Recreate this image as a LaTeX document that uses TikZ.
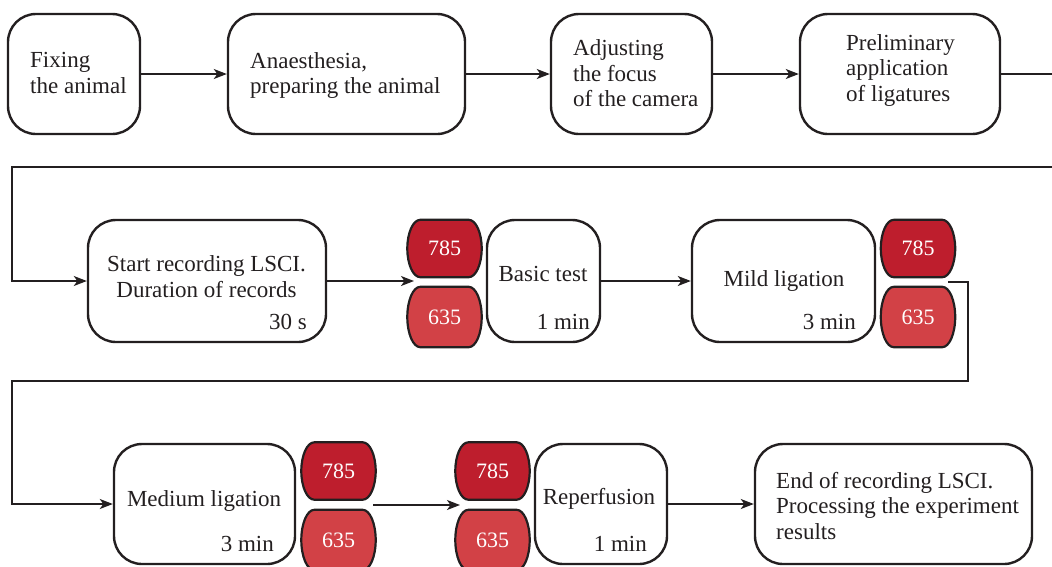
\documentclass[tikz,border=0pt]{standalone}
\usepackage{fontspec}
\setmainfont{Liberation Serif}
\usetikzlibrary{arrows.meta,calc}
\definecolor{lc}{HTML}{231F20}
\definecolor{redA}{HTML}{BE1E2D}
\definecolor{redB}{HTML}{D24146}
\tikzset{
 box/.style={draw=lc, line width=2.4pt, rounded corners=28pt, inner sep=0pt},
 txt/.style={font=\fontsize{23}{25.5}\selectfont, text=lc, inner sep=0pt},
 pilltxt/.style={font=\fontsize{22}{24}\selectfont, text=white, inner sep=0pt},
 pillbox/.style={inner sep=0pt, minimum width=74pt},
 pillline/.style={draw=lc, line width=2.2pt},
 conn/.style={draw=lc, line width=1.6pt},
 arr/.style={conn, -{Stealth[length=13pt,width=10pt,inset=3.5pt]}},
}
% #1 node, #2 fill, #3 vertical control offset (0.5523 * half height)
\newcommand\pillpath[3]{\draw[pillline, fill=#2]
 ([xshift=13pt]#1.north west) -- ([xshift=-13pt]#1.north east)
 .. controls ([xshift=-5.8pt]#1.north east) and ([yshift=#3]#1.east) .. (#1.east)
 .. controls ([yshift=-#3]#1.east) and ([xshift=-5.8pt]#1.south east) .. ([xshift=-13pt]#1.south east)
 -- ([xshift=13pt]#1.south west)
 .. controls ([xshift=5.8pt]#1.south west) and ([yshift=-#3]#1.west) .. (#1.west)
 .. controls ([yshift=#3]#1.west) and ([xshift=5.8pt]#1.north west) .. cycle;}
\begin{document}
\begin{tikzpicture}[x=1pt,y=-1pt]
\useasboundingbox (0,0) rectangle (1052,566);
% row 1
\node[box, minimum width=132pt, minimum height=120pt] (b1) at (74,74) {};
\node[box, minimum width=237pt, minimum height=120pt] (b2) at (346.5,74) {};
\node[box, minimum width=161pt, minimum height=120pt] (b3) at (631.5,74) {};
\node[box, minimum width=200pt, minimum height=120pt] (b4) at (900,74) {};
\node[txt, anchor=west, align=left] (t1) at (30,73) {Fixing\\the animal};
\node[txt, anchor=west, align=left] (t2) at (250,75.5) {Anaesthesia,\\preparing the animal};
\node[txt, anchor=west, align=left] (t3) at (573,73.5) {Adjusting\\the focus\\of the camera};
\node[txt, anchor=west, align=left] (t4) at (846,70) {Preliminary\\application\\of ligatures};
% row 2
\node[box, minimum width=238pt, minimum height=122pt] (b5) at (207,281) {};
\node[box, minimum width=113pt, minimum height=122pt] (b6) at (543.5,281) {};
\node[box, minimum width=183pt, minimum height=122pt] (b7) at (783.5,281) {};
\node[txt, align=center] (t5) at (206.5,276.5) {Start recording LSCI.\\Duration of records};
\node[txt, anchor=base east] (d5) at (307,329) {30 s};
\node[txt, anchor=base] (t6) at (543,281) {Basic test};
\node[txt, anchor=base east] (d6) at (590,329) {1 min};
\node[txt, anchor=base] (t7) at (784,286) {Mild ligation};
\node[txt, anchor=base east] (d7) at (856,329) {3 min};
% row 3
\node[box, minimum width=181pt, minimum height=120pt] (b8) at (204.5,504) {};
\node[box, minimum width=132pt, minimum height=120pt] (b9) at (601,504) {};
\node[box, minimum width=277pt, minimum height=120pt] (b10) at (893.5,504) {};
\node[txt, anchor=base] (t8) at (204,506) {Medium ligation};
\node[txt, anchor=base east] (d8) at (274,551) {3 min};
\node[txt, anchor=base] (t9) at (599,504) {Reperfusion};
\node[txt, anchor=base east] (d9) at (647,551) {1 min};
\node[txt, anchor=west, align=left] (t10) at (776,506) {End of recording LSCI.\\Processing the experiment\\results};
% pills
\foreach \n/\x/\y/\h/\c/\v in {p1a/444.5/248.5/57/redA/785, p1b/444.5/317/60/redB/635,
  p2a/918/248.5/57/redA/785, p2b/918/317/60/redB/635,
  p3a/338.5/471/57/redA/785, p3b/338.5/540/60/redB/635,
  p4a/492.5/471/57/redA/785, p4b/492.5/540/60/redB/635}{
  \node[pillbox, minimum height=\h pt] (\n) at (\x,\y) {};
  \pgfmathsetmacro\kh{0.5523*\h/2}
  \pillpath{\n}{\c}{\kh pt}
  \node[pilltxt] (\n t) at (\n.center) {\v};
}
% connectors
\coordinate (g1) at (414,281);
\coordinate (g2) at (948,282);
\coordinate (g3o) at (373,505);
\coordinate (g3i) at (460,505);
\coordinate (r1) at (1075,74);
\coordinate (l1) at (12,167);
\coordinate (r2) at (968,282);
\coordinate (l2) at (12,381);
\draw[arr] (b1) -- (b2);
\draw[arr] (b2) -- (b3);
\draw[arr] (b3) -- (b4);
\draw[arr] (b4.east) -- (r1) |- (l1) |- (b5.west);
\draw[arr] (b5.east) -- (g1);
\draw[arr] (b6) -- (b7);
\draw[arr] (g2) -- (r2) |- (l2) |- (b8.west);
\draw[arr] (g3o) -- (g3i);
\draw[arr] (b9) -- (b10);
\end{tikzpicture}
\end{document}
